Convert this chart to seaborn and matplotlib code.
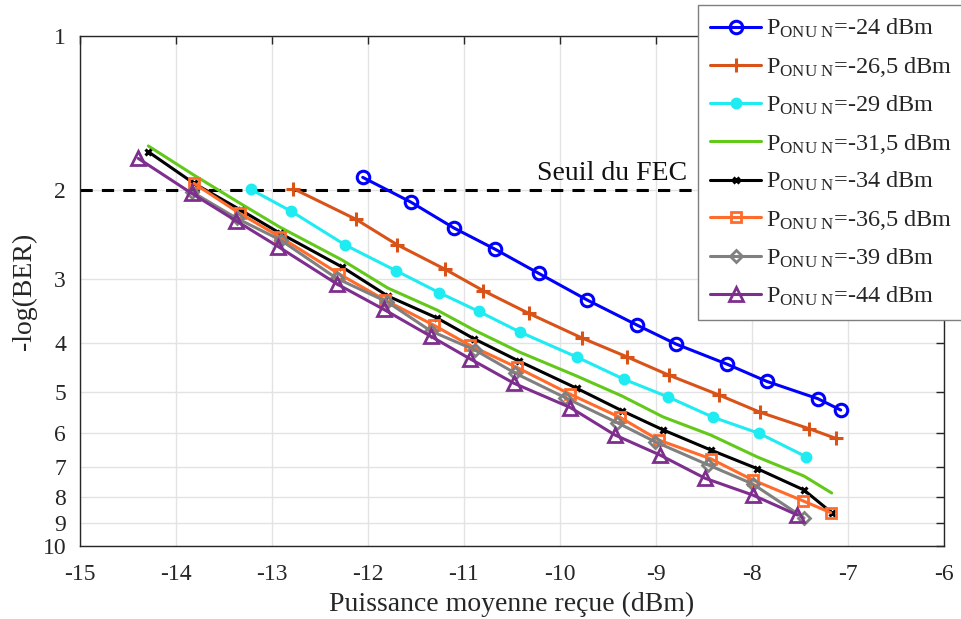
import numpy as np
import pandas as pd
import matplotlib
matplotlib.use("Agg")
import matplotlib.pyplot as plt
import seaborn as sns

# ---------------- data ----------------
labels = ["-24", "-26,5", "-29", "-31,5", "-34", "-36,5", "-39", "-44"]

x_24 = [-12.055, -11.555, -11.104, -10.674, -10.222, -9.716, -9.193, -8.792, -8.264, -7.847, -7.313, -7.076]
y_24 = [1.893, 2.116, 2.380, 2.620, 2.920, 3.294, 3.692, 4.018, 4.397, 4.755, 5.143, 5.413]

x_265 = [-12.778, -12.125, -11.695, -11.195, -10.799, -10.326, -9.771, -9.299, -8.861, -8.344, -7.914, -7.406, -7.128]
y_265 = [1.992, 2.288, 2.567, 2.868, 3.158, 3.498, 3.910, 4.260, 4.628, 5.057, 5.469, 5.888, 6.150]

x_29 = [-13.222, -12.799, -12.236, -11.708, -11.257, -10.847, -10.417, -9.826, -9.333, -8.880, -8.403, -7.922, -7.437]
y_29 = [1.998, 2.207, 2.570, 2.886, 3.187, 3.467, 3.806, 4.260, 4.711, 5.097, 5.594, 6.017, 6.682]

x_315 = [-14.288, -13.813, -13.321, -12.920, -12.269, -11.794, -11.281, -10.896, -10.424, -9.826, -9.354, -8.924, -8.430, -7.944, -7.458, -7.170]
y_315 = [1.643, 1.874, 2.135, 2.369, 2.750, 3.120, 3.446, 3.771, 4.165, 4.642, 5.081, 5.586, 6.059, 6.691, 7.293, 7.872]

x_34 = [-14.288, -13.813, -13.321, -12.920, -12.269, -11.794, -11.281, -10.896, -10.424, -9.826, -9.354, -8.924, -8.430, -7.944, -7.458, -7.170]
y_34 = [1.687, 1.945, 2.197, 2.434, 2.838, 3.235, 3.572, 3.923, 4.344, 4.906, 5.430, 5.923, 6.482, 7.055, 7.767, 8.603]

x_365 = [-13.813, -13.337, -12.920, -12.299, -11.823, -11.315, -10.938, -10.451, -9.899, -9.375, -8.972, -8.430, -7.993, -7.472, -7.180]
y_365 = [1.945, 2.227, 2.475, 2.929, 3.294, 3.690, 4.042, 4.463, 5.035, 5.594, 6.197, 6.745, 7.421, 8.151, 8.603]

x_39 = [-13.836, -13.367, -12.911, -12.326, -11.797, -11.346, -10.885, -10.465, -9.943, -9.403, -9.010, -8.455, -7.993, -7.458]
y_39 = [2.020, 2.278, 2.512, 2.987, 3.324, 3.788, 4.128, 4.585, 5.122, 5.732, 6.245, 6.937, 7.556, 8.812]

x_44 = [-14.393, -13.836, -13.375, -12.934, -12.323, -11.837, -11.346, -10.938, -10.479, -9.893, -9.427, -8.958, -8.490, -7.993, -7.528]
y_44 = [1.738, 2.035, 2.303, 2.589, 3.064, 3.435, 3.880, 4.294, 4.797, 5.351, 6.059, 6.632, 7.364, 7.943, 8.693]

fec_level = 2.0
x_ticks = [-15, -14, -13, -12, -11, -10, -9, -8, -7, -6]
y_ticks = [1, 2, 3, 4, 5, 6, 7, 8, 9, 10]

series_x = [x_24, x_265, x_29, x_315, x_34, x_365, x_39, x_44]
series_y = [y_24, y_265, y_29, y_315, y_34, y_365, y_39, y_44]

# ---------------- style ----------------
sns.set_theme(style="white")
plt.rcParams["font.family"] = ["Liberation Serif", "DejaVu Serif"]
plt.rcParams["mathtext.fontset"] = "custom"
plt.rcParams["mathtext.rm"] = "Liberation Serif"
plt.rcParams["mathtext.it"] = "Liberation Serif:italic"
plt.rcParams["axes.unicode_minus"] = False

colors = ["#0000FF", "#D95319", "#1EEBF2", "#62C91A", "#000000", "#FF6B2B", "#808080", "#7E2F8E"]
markers = ["o", "+", "o", None, "x", "s", "D", "^"]
msizes = [9, 10, 7, 0, 5, 7, 6, 10]
mfaces = ["none", None, "#1EEBF2", None, None, "none", "none", "none"]
mews = [2.2, 2.2, 1.5, 1.5, 2.2, 2.0, 2.0, 2.0]

fig = plt.figure(figsize=(9.61, 6.19), dpi=100)
ax = fig.add_axes([80 / 961, 1 - 546 / 619, (944 - 80) / 961, (546 - 36) / 619])

for i in range(len(series_x)):
    df = pd.DataFrame({"x": series_x[i], "y": series_y[i]})
    kw = dict(color=colors[i], linewidth=2.2)
    if markers[i] is not None:
        kw.update(marker=markers[i], markersize=msizes[i], markeredgewidth=mews[i],
                  markeredgecolor=colors[i])
        if mfaces[i] is not None:
            kw.update(markerfacecolor=mfaces[i])
    sns.lineplot(data=df, x="x", y="y", ax=ax, sort=False, estimator=None,
                 label=r"P$_{\mathrm{ONU\ N}}$=" + labels[i] + " dBm", **kw)

ax.axhline(fec_level, color="black", linestyle=(0, (4, 3)), linewidth=2.2, zorder=1)
ax.text(-8.68, 1.97, "Seuil du FEC", ha="right", va="bottom", fontsize=20, color="#111111")

ax.set_yscale("log")
ax.set_xlim(-15, -6)
ax.set_ylim(10, 1)
ax.set_xticks(x_ticks)
ax.set_xticklabels([str(t) for t in x_ticks])
ax.set_yticks(y_ticks)
ax.set_yticklabels([str(t) for t in y_ticks])
ax.yaxis.set_minor_locator(matplotlib.ticker.NullLocator())

ax.grid(True, which="major", color="#E3E3E3", linewidth=1.0)
ax.set_axisbelow(True)
for s in ax.spines.values():
    s.set_color("#262626")
    s.set_linewidth(1.0)
ax.tick_params(axis="both", which="major", direction="in", length=6, width=1.0,
               top=True, right=True, labelsize=17, colors="#262626")
ax.tick_params(axis="x", pad=13)
ax.tick_params(axis="y", pad=10)

ax.set_xlabel("Puissance moyenne reçue (dBm)", fontsize=20, color="#262626", labelpad=5)
ax.set_ylabel("-log(BER)", fontsize=20, color="#262626", labelpad=4)

handles, lbls = ax.get_legend_handles_labels()
leg = ax.legend(handles, lbls, loc="upper left",
                bbox_to_anchor=(698 / 961, 1 - 5 / 619), bbox_transform=fig.transFigure,
                fontsize=17.5, frameon=True, fancybox=False, framealpha=1,
                edgecolor="#7F7F7F", borderaxespad=0, borderpad=0.5,
                labelspacing=0.6, handlelength=2.1, handletextpad=0.2)
leg.get_frame().set_linewidth(1.0)
leg.set_zorder(10)

fig.savefig("out.png", dpi=100)
